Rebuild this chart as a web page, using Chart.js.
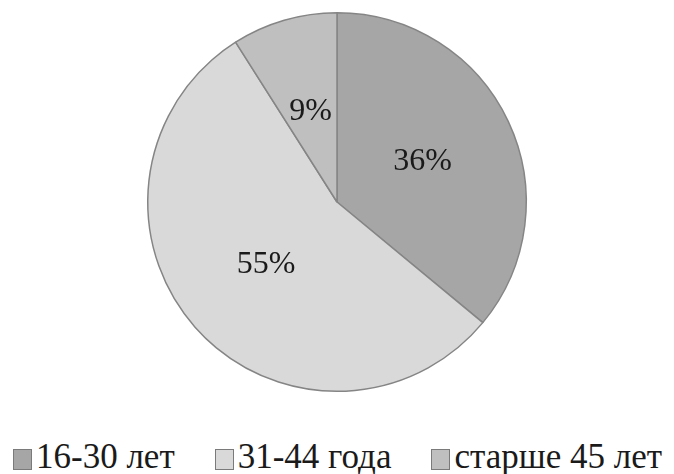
<!DOCTYPE html>
<html>
<head>
<meta charset="utf-8">
<script src="https://cdn.jsdelivr.net/npm/chart.js@4/dist/chart.umd.min.js"></script>
<style>
  body { margin: 0; background: #fff; }
  .wrap { position: relative; width: 674px; height: 474px; }
  .pie { position: absolute; left: 0; top: 0; width: 674px; height: 404px; }
  .legend { position: absolute; left: 13px; top: 439px; display: flex; align-items: center;
            font-family: "Liberation Serif", "Times New Roman", Tinos, "Noto Serif", "DejaVu Serif", "Nimbus Roman", FreeSerif, serif;
            font-size: 36px; line-height: 36px; color: #1a1a1a; }
  .legend span.item { display: flex; align-items: center; margin-right: 40px; white-space: nowrap; }
  .legend span.item:last-child { margin-right: 0; }
  .legend i { display: inline-block; width: 17px; height: 19px; border: 1.5px solid #7a7a7a; margin-right: 4px; margin-top: 4px; flex: none; }
</style>
</head>
<body>
<div class="wrap">
  <div class="pie"><canvas id="ageChart"></canvas></div>
  <div class="legend" id="legend"></div>
</div>
<script>
const categories = ["16-30 лет", "31-44 года", "старше 45 лет"];
const shares = [36, 55, 9];
const sliceColors = ["#a6a6a6", "#d9d9d9", "#bfbfbf"];

const serifStack = '"Liberation Serif", "Times New Roman", Tinos, "Noto Serif", "DejaVu Serif", "Nimbus Roman", FreeSerif, serif';

const sliceLabels = {
  id: 'sliceLabels',
  afterDatasetsDraw(chart) {
    const ctx = chart.ctx;
    const meta = chart.getDatasetMeta(0);
    ctx.save();
    ctx.font = '32px ' + serifStack;
    ctx.fillStyle = '#1a1a1a';
    ctx.textAlign = 'center';
    ctx.textBaseline = 'middle';
    meta.data.forEach((arc, i) => {
      const p = arc.getCenterPoint();
      ctx.fillText(shares[i] + '%', p.x, p.y);
    });
    ctx.restore();
  }
};

const chart = new Chart(document.getElementById('ageChart').getContext('2d'), {
  type: 'pie',
  data: {
    labels: categories,
    datasets: [{
      data: shares,
      backgroundColor: sliceColors,
      borderColor: '#858585',
      borderWidth: 1.5
    }]
  },
  options: {
    responsive: true,
    maintainAspectRatio: false,
    animation: false,
    layout: { padding: { top: 12, bottom: 12 } },
    plugins: {
      legend: { display: false },
      tooltip: { enabled: false }
    }
  },
  plugins: [sliceLabels]
});

// html legend built from the chart data
const legend = document.getElementById('legend');
chart.data.labels.forEach((name, i) => {
  const item = document.createElement('span');
  item.className = 'item';
  const box = document.createElement('i');
  box.style.background = chart.data.datasets[0].backgroundColor[i];
  item.appendChild(box);
  item.appendChild(document.createTextNode(name));
  legend.appendChild(item);
});

// shrink the legend font if the fallback font runs wider than the row
let size = 36;
while (legend.scrollWidth > 656 && size > 20) {
  size -= 1;
  legend.style.fontSize = size + 'px';
}
</script>
</body>
</html>
